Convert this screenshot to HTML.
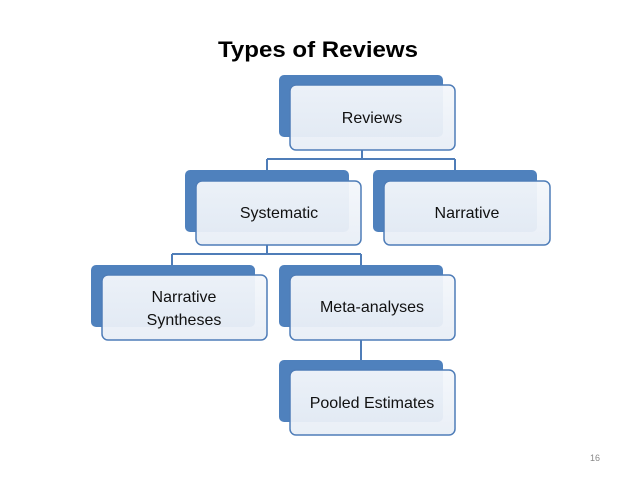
<!DOCTYPE html>
<html><head><meta charset="utf-8"><style>
body{margin:0;width:638px;height:479px;background:#fff;overflow:hidden;font-family:"Liberation Sans",sans-serif;}
</style></head><body>
<svg width="638" height="479" viewBox="0 0 638 479" xmlns="http://www.w3.org/2000/svg" font-family="Liberation Sans, sans-serif">
<defs>
<linearGradient id="g" x1="0" y1="0" x2="0" y2="1"><stop offset="0" stop-color="#f4f7fb"/><stop offset="1" stop-color="#e8eef6"/></linearGradient>
</defs>
<text x="318" y="57" text-anchor="middle" font-size="22" font-weight="bold" fill="#000" textLength="200" lengthAdjust="spacingAndGlyphs">Types of Reviews</text>
<g stroke="#4f7db8" stroke-width="2" fill="none">
<path d="M362 150V159M267 159H455M267 159V170M455 159V170"/>
<path d="M267 245V254M172 254H361M172 254V265M361 254V265"/>
<path d="M361 340V360"/>
</g>
<g fill="#4f81bd">
<rect x="279" y="75" width="164" height="62" rx="5"/>
<rect x="185" y="170" width="164" height="62" rx="5"/>
<rect x="373" y="170" width="164" height="62" rx="5"/>
<rect x="91" y="265" width="164" height="62" rx="5"/>
<rect x="279" y="265" width="164" height="62" rx="5"/>
<rect x="279" y="360" width="164" height="62" rx="5"/>
</g>
<g fill="url(#g)" stroke="#4f7db8" stroke-width="1.5" fill-opacity="0.95">
<rect x="290" y="85" width="165" height="65" rx="6"/>
<rect x="196" y="181" width="165" height="64" rx="6"/>
<rect x="384" y="181" width="166" height="64" rx="6"/>
<rect x="102" y="275" width="165" height="65" rx="6"/>
<rect x="290" y="275" width="165" height="65" rx="6"/>
<rect x="290" y="370" width="165" height="65" rx="6"/>
</g>
<g font-size="16" fill="#111" text-anchor="middle">
<text x="372" y="123">Reviews</text>
<text x="279" y="218">Systematic</text>
<text x="467" y="218">Narrative</text>
<text x="184" y="302">Narrative</text>
<text x="184" y="325">Syntheses</text>
<text x="372" y="312">Meta-analyses</text>
<text x="372" y="408">Pooled Estimates</text>
</g>
<text x="595" y="461" text-anchor="middle" font-size="9" fill="#888">16</text>
</svg>
</body></html>
